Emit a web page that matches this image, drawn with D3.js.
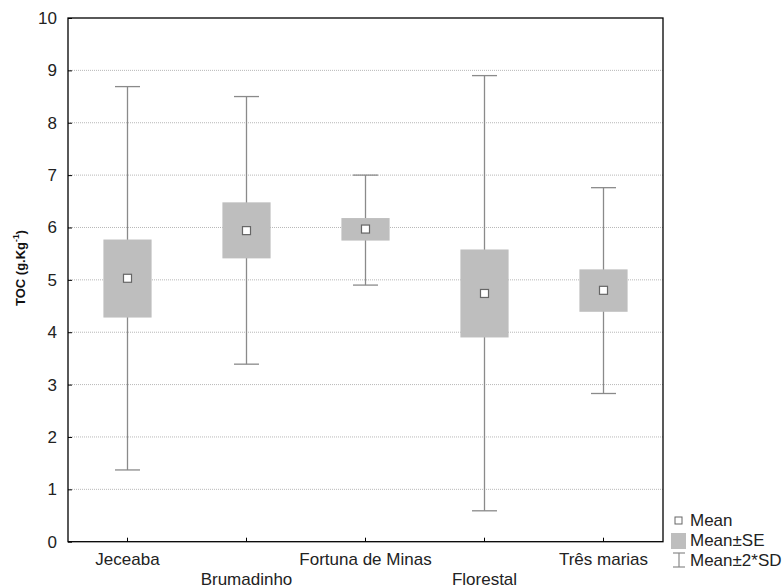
<!DOCTYPE html>
<html>
<head>
<meta charset="utf-8">
<script src="https://cdn.jsdelivr.net/npm/d3@7"></script>
<style>
  body { margin: 0; background: #fff; }
  svg { display: block; font-family: Arial, "Liberation Sans", sans-serif; }
</style>
</head>
<body>
<svg id="chart" width="783" height="588"></svg>
<script>
// Sites and their TOC statistics (g.Kg-1)
const categories = ["Jeceaba", "Brumadinho", "Fortuna de Minas", "Florestal", "Três marias"];
const means   = [5.03, 5.94, 5.97, 4.74, 4.80];
const seLow   = [4.28, 5.41, 5.75, 3.90, 4.39];
const seHigh  = [5.77, 6.48, 6.18, 5.58, 5.20];
const sdLow   = [1.37, 3.39, 4.90, 0.59, 2.83];
const sdHigh  = [8.69, 8.50, 7.00, 8.90, 6.76];
const yTicks  = [0, 1, 2, 3, 4, 5, 6, 7, 8, 9, 10];
const legendItems = ["Mean", "Mean±SE", "Mean±2*SD"];

const svg = d3.select("#chart");
const m = { left: 68, right: 663, top: 18, bottom: 541.7 };

const x = d3.scaleBand().domain(categories).range([m.left, m.right]).padding(0);
const y = d3.scaleLinear().domain([0, 10]).range([m.bottom, m.top]);

const boxW = x.bandwidth() * 0.405;
const capW = x.bandwidth() * 0.21;

// dotted gridlines
svg.append("g").selectAll("line")
  .data(yTicks.filter(t => t > 0 && t < 10))
  .join("line")
  .attr("x1", m.left).attr("x2", m.right)
  .attr("y1", d => y(d)).attr("y2", d => y(d))
  .attr("stroke", "#b8b8b8").attr("stroke-width", 1)
  .attr("stroke-dasharray", "1,1");

const data = categories.map((c, i) => ({
  c, mean: means[i], seL: seLow[i], seH: seHigh[i], sdL: sdLow[i], sdH: sdHigh[i]
}));
const cx = d => x(d.c) + x.bandwidth() / 2;

const g = svg.append("g");
// whiskers (mean ± 2*SD)
g.selectAll(".whisker").data(data).join("line")
  .attr("x1", cx).attr("x2", cx)
  .attr("y1", d => y(d.sdH)).attr("y2", d => y(d.sdL))
  .attr("stroke", "#8a8a8a").attr("stroke-width", 1.3);
g.selectAll(".capTop").data(data).join("line")
  .attr("x1", d => cx(d) - capW / 2).attr("x2", d => cx(d) + capW / 2)
  .attr("y1", d => y(d.sdH)).attr("y2", d => y(d.sdH))
  .attr("stroke", "#8a8a8a").attr("stroke-width", 1.3);
g.selectAll(".capBot").data(data).join("line")
  .attr("x1", d => cx(d) - capW / 2).attr("x2", d => cx(d) + capW / 2)
  .attr("y1", d => y(d.sdL)).attr("y2", d => y(d.sdL))
  .attr("stroke", "#8a8a8a").attr("stroke-width", 1.3);
// boxes (mean ± SE)
g.selectAll(".box").data(data).join("rect")
  .attr("x", d => cx(d) - boxW / 2).attr("width", boxW)
  .attr("y", d => y(d.seH)).attr("height", d => y(d.seL) - y(d.seH))
  .attr("fill", "#bebebe");
// mean markers
g.selectAll(".mean").data(data).join("rect")
  .attr("x", d => cx(d) - 4).attr("y", d => y(d.mean) - 4)
  .attr("width", 8).attr("height", 8)
  .attr("fill", "#fff").attr("stroke", "#666").attr("stroke-width", 1.2);

// frame
svg.append("rect")
  .attr("x", m.left).attr("y", m.top)
  .attr("width", m.right - m.left).attr("height", m.bottom - m.top)
  .attr("fill", "none").attr("stroke", "#000").attr("stroke-width", 1.3);

// y axis ticks (inward) and labels
const yAxis = d3.axisLeft(y).tickValues(yTicks).tickSizeInner(-4).tickSizeOuter(0).tickPadding(11);
const ya = svg.append("g").attr("transform", `translate(${m.left},0)`).call(yAxis);
ya.select(".domain").remove();
ya.selectAll("text").attr("font-size", 17).attr("fill", "#222").attr("font-family", "Arial, 'Liberation Sans', sans-serif");
ya.selectAll("line").attr("stroke", "#000");

// x axis ticks (inward) and staggered labels
const xAxis = d3.axisBottom(x).tickSizeInner(-4).tickSizeOuter(0).tickFormat("");
const xa = svg.append("g").attr("transform", `translate(0,${m.bottom})`).call(xAxis);
xa.select(".domain").remove();
xa.selectAll("line").attr("stroke", "#000");
svg.append("g").selectAll("text").data(categories).join("text")
  .attr("x", d => x(d) + x.bandwidth() / 2)
  .attr("y", (d, i) => i % 2 === 0 ? 565 : 585)
  .attr("text-anchor", "middle")
  .attr("font-size", 17).attr("fill", "#222")
  .text(d => d);

// y axis title
const yt = svg.append("text")
  .attr("transform", "translate(25,268) rotate(-90)")
  .attr("text-anchor", "middle")
  .attr("font-size", 13).attr("font-weight", "bold").attr("fill", "#111");
yt.append("tspan").text("TOC (g.Kg");
yt.append("tspan").attr("font-size", 8.5).attr("dy", -6).text("-1");
yt.append("tspan").attr("dy", 6).text(")");

// legend
const lg = svg.append("g");
lg.append("rect").attr("x", 675).attr("y", 517).attr("width", 7).attr("height", 7)
  .attr("fill", "#fff").attr("stroke", "#666").attr("stroke-width", 1);
lg.append("rect").attr("x", 671).attr("y", 533).attr("width", 15).attr("height", 16)
  .attr("fill", "#bebebe");
lg.append("line").attr("x1", 679).attr("x2", 679).attr("y1", 553).attr("y2", 567)
  .attr("stroke", "#8a8a8a").attr("stroke-width", 1.2);
lg.append("line").attr("x1", 673).attr("x2", 685).attr("y1", 553).attr("y2", 553)
  .attr("stroke", "#8a8a8a").attr("stroke-width", 1.2);
lg.append("line").attr("x1", 673).attr("x2", 685).attr("y1", 567).attr("y2", 567)
  .attr("stroke", "#8a8a8a").attr("stroke-width", 1.2);
lg.selectAll(".lt").data(legendItems).join("text")
  .attr("x", 690).attr("y", (d, i) => 526 + i * 20)
  .attr("font-size", 17).attr("fill", "#222")
  .text(d => d);
</script>
</body>
</html>
